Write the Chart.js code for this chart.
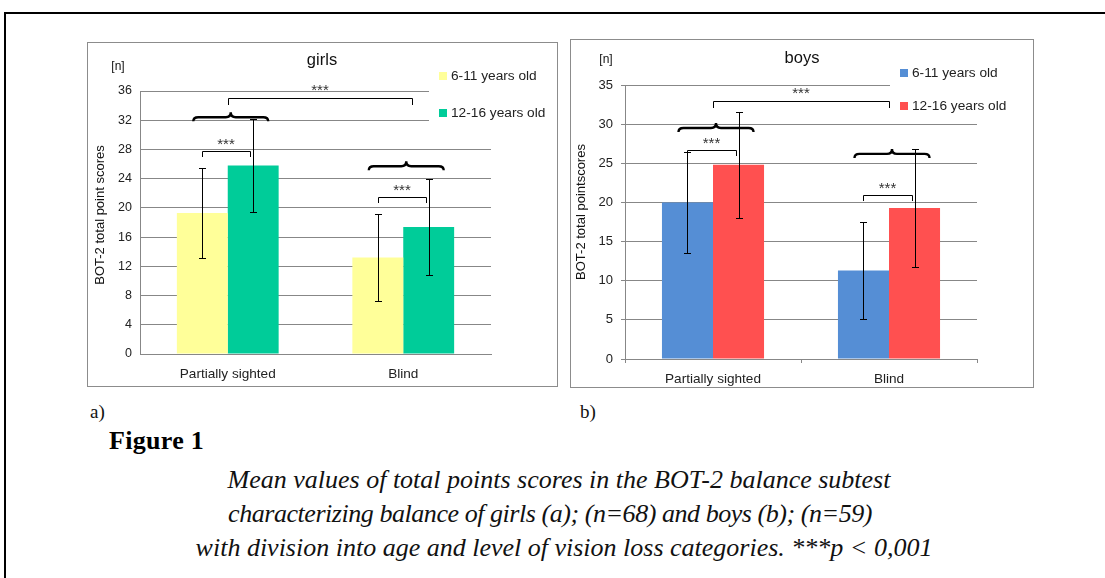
<!DOCTYPE html>
<html>
<head>
<meta charset="utf-8">
<script src="https://cdn.jsdelivr.net/npm/chart.js@4.4.1/dist/chart.umd.min.js"></script>
<style>
  body { margin: 0; background: #fff; width: 1105px; height: 578px; overflow: hidden; position: relative; }
  .frame { position: absolute; left: 4px; top: 12px; width: 1200px; height: 700px; border: 2px solid #000; }
  .box { position: absolute; border: 1px solid #8c8c8c; background: #fff; }
  .box canvas { display: block; }
  .lbl { position: absolute; font-family: "Liberation Serif", serif; font-size: 19px; line-height: 20px; color: #111; }
  .fig { position: absolute; left: 109px; top: 427px; font-family: "Liberation Serif", serif; font-weight: bold; font-size: 26px; line-height: 28px; letter-spacing: 0.3px; }
  .cap { position: absolute; font-family: "Liberation Serif", serif; font-style: italic; font-size: 26px; line-height: 30px; text-align: center; white-space: nowrap; color: #111; }
</style>
</head>
<body>
<div class="frame"></div>
<div class="box" style="left:87px;top:42px;width:469px;height:343px"><canvas id="girls" width="469" height="343"></canvas></div>
<div class="box" style="left:570px;top:39px;width:462px;height:347px"><canvas id="boys" width="462" height="347"></canvas></div>
<div class="lbl" style="left:90px;top:402px">a)</div>
<div class="lbl" style="left:580px;top:402px">b)</div>
<div class="fig">Figure 1</div>
<div class="cap" style="left:159px;width:800px;top:465px">Mean values of total points scores in the BOT-2 balance subtest</div>
<div class="cap" style="left:150px;width:800px;top:499px;letter-spacing:-0.45px">characterizing balance of girls (a); (n=68) and boys (b); (n=59)</div>
<div class="cap" style="left:164px;width:800px;top:533px">with division into age and level of vision loss categories. ***p &lt; 0,001</div>
<script>
const categories = ['Partially sighted', 'Blind'];
const ageGroups = ['6-11 years old', '12-16 years old'];

const girlsYoung = [19.3, 13.2];
const girlsOld = [25.8, 17.4];
const girlsYoungSD = [6.1, 6.0];
const girlsOldSD = [6.3, 6.6];
const girlsTicks = [0, 4, 8, 12, 16, 20, 24, 28, 32, 36];

const boysYoung = [20.0, 11.3];
const boysOld = [24.8, 19.3];
const boysYoungSD = [6.5, 6.2];
const boysOldSD = [6.8, 7.5];
const boysTicks = [0, 5, 10, 15, 20, 25, 30, 35];

// where the *** brackets sit, in score units
const girlsAgeBracket = [27.8, 21.5];
const girlsGroupBrace = [32.4, 25.7];
const girlsVisionBracket = 35.0;
const boysAgeBracket = [26.7, 21.0];
const boysGroupBrace = [29.5, 26.2];
const boysVisionBracket = 32.9;

const grey = '#878787';
Chart.defaults.font.family = '"Liberation Sans", Arial, sans-serif';
Chart.defaults.color = '#222';

function brace(ctx, x1, x2, y) {
  const xm = (x1 + x2) / 2, h = 5;
  ctx.beginPath();
  ctx.moveTo(x1, y + 4);
  ctx.quadraticCurveTo(x1, y, x1 + h, y);
  ctx.lineTo(xm - h, y);
  ctx.quadraticCurveTo(xm, y, xm, y - h);
  ctx.quadraticCurveTo(xm, y, xm + h, y);
  ctx.lineTo(x2 - h, y);
  ctx.quadraticCurveTo(x2, y, x2, y + 4);
  ctx.stroke();
}

function bracket(ctx, x1, x2, y, leg) {
  ctx.beginPath();
  ctx.moveTo(x1 + 0.5, y + leg);
  ctx.lineTo(x1 + 0.5, y + 0.5);
  ctx.lineTo(x2 + 0.5, y + 0.5);
  ctx.lineTo(x2 + 0.5, y + leg);
  ctx.stroke();
}

function stars(ctx, x, y) {
  ctx.font = '15px "Liberation Sans", Arial';
  ctx.fillStyle = '#333';
  ctx.textAlign = 'center';
  ctx.textBaseline = 'middle';
  ctx.fillText('***', x, y + 2);
}

function markers(cfg) {
  return {
    id: 'markers',
    afterDatasetsDraw(chart) {
      const ctx = chart.ctx, ys = chart.scales.y;
      const b0 = chart.getDatasetMeta(0).data, b1 = chart.getDatasetMeta(1).data;
      ctx.save();
      ctx.strokeStyle = '#000';
      ctx.lineWidth = 1;

      // error bars (mean +/- sd)
      chart.data.datasets.forEach((ds, i) => {
        chart.getDatasetMeta(i).data.forEach((bar, j) => {
          const top = Math.round(ys.getPixelForValue(ds.data[j] + ds.sd[j]));
          const bot = Math.round(ys.getPixelForValue(ds.data[j] - ds.sd[j]));
          const x = Math.round(bar.x);
          ctx.beginPath();
          ctx.moveTo(x + 0.5, top); ctx.lineTo(x + 0.5, bot);
          ctx.moveTo(x - 3, top + 0.5); ctx.lineTo(x + 4, top + 0.5);
          ctx.moveTo(x - 3, bot + 0.5); ctx.lineTo(x + 4, bot + 0.5);
          ctx.stroke();
        });
      });

      // age comparison inside each group
      cfg.age.forEach((v, j) => {
        const y = Math.round(ys.getPixelForValue(v));
        const x1 = Math.round(b0[j].x), x2 = Math.round(b1[j].x) - 3;
        bracket(ctx, x1, x2, y, 6);
        stars(ctx, (x1 + x2) / 2, y - 8);
      });

      // curly braces over each group
      ctx.lineWidth = 2.4;
      cfg.brace.forEach((v, j) => {
        brace(ctx, b0[j].x - 9, b1[j].x + 15, ys.getPixelForValue(v));
      });

      // partially sighted vs blind
      ctx.lineWidth = 1;
      const c0 = Math.round((b0[0].x + b1[0].x) / 2);
      const c1 = Math.round((b0[1].x + b1[1].x) / 2) + cfg.shift;
      const yv = Math.round(ys.getPixelForValue(cfg.vision));
      bracket(ctx, c0, c1, yv, 7);
      stars(ctx, (c0 + c1) / 2, yv - 9);

      // legend on a white patch
      const L = cfg.legend;
      ctx.fillStyle = '#fff';
      ctx.fillRect(L.x - 10, 20, chart.width - L.x + 10, L.h);
      chart.data.datasets.forEach((ds, i) => {
        const yy = L.y + i * L.gap;
        ctx.fillStyle = ds.backgroundColor;
        ctx.fillRect(L.x, yy - 4, 8, 8);
        ctx.fillStyle = '#222';
        ctx.font = '13.7px "Liberation Sans", Arial';
        ctx.textAlign = 'left';
        ctx.textBaseline = 'middle';
        ctx.fillText(ds.label, L.x + 12, yy);
      });

      // title, unit and axis title
      ctx.fillStyle = '#111';
      ctx.font = '16.5px "Liberation Sans", Arial';
      ctx.textAlign = 'center';
      ctx.fillText(cfg.title, cfg.tx, cfg.ty);
      ctx.font = '12px "Liberation Sans", Arial';
      ctx.fillText('[n]', cfg.nx, cfg.ny);
      ctx.save();
      ctx.translate(cfg.ax, cfg.ay);
      ctx.rotate(-Math.PI / 2);
      ctx.font = '13px "Liberation Sans", Arial';
      ctx.fillStyle = '#111';
      ctx.fillText(cfg.axisTitle, 0, 0);
      ctx.restore();
      ctx.restore();
    }
  };
}

function makeChart(id, young, old, youngSD, oldSD, colors, ticks, max, lay, cfg) {
  return new Chart(document.getElementById(id), {
    type: 'bar',
    data: {
      labels: categories,
      datasets: [
        { label: ageGroups[0], data: young, sd: youngSD, backgroundColor: colors[0] },
        { label: ageGroups[1], data: old, sd: oldSD, backgroundColor: colors[1] }
      ]
    },
    options: {
      responsive: false,
      animation: false,
      layout: { padding: { top: lay.top, right: lay.right, bottom: 0, left: 0 } },
      datasets: { bar: { categoryPercentage: 0.58, barPercentage: 1 } },
      plugins: { legend: { display: false }, tooltip: { enabled: false } },
      scales: {
        x: {
          grid: { drawOnChartArea: false, drawTicks: lay.xTicks, tickLength: 4, offset: true, color: grey },
          border: { color: grey },
          ticks: { padding: lay.xPad, font: { size: 13.6 }, color: '#222' },
          afterFit: s => { s.height = lay.xh; }
        },
        y: {
          min: 0, max: max,
          afterBuildTicks: s => { s.ticks = ticks.map(v => ({ value: v })); },
          grid: { color: grey, drawTicks: lay.yTicks, tickLength: 4 },
          border: { color: grey },
          ticks: { padding: 8, font: { size: lay.tickSize }, color: '#222' },
          afterFit: s => { s.width = lay.yw; }
        }
      }
    },
    plugins: [markers(cfg)]
  });
}

makeChart('girls', girlsYoung, girlsOld, girlsYoungSD, girlsOldSD, ['#FFFF99', '#00CC99'], girlsTicks, 36,
  { top: 48, right: 66, xh: 32, xPad: 12, xTicks: false, yTicks: false, yw: 52, tickSize: 12.5 },
  { age: girlsAgeBracket, brace: girlsGroupBrace, vision: girlsVisionBracket, shift: 9,
    legend: { x: 351, y: 33, gap: 37, h: 65 },
    title: 'girls', tx: 234, ty: 17, nx: 30, ny: 24, ax: 12, ay: 172, axisTitle: 'BOT-2 total point scores' });

makeChart('boys', boysYoung, boysOld, boysYoungSD, boysOldSD, ['#558ED5', '#FF5050'], boysTicks, 35,
  { top: 45, right: 56, xh: 28, xPad: 8, xTicks: true, yTicks: true, yw: 54, tickSize: 13 },
  { age: boysAgeBracket, brace: boysGroupBrace, vision: boysVisionBracket, shift: 0,
    legend: { x: 329, y: 33, gap: 33, h: 60 },
    title: 'boys', tx: 231, ty: 18, nx: 35, ny: 20, ax: 10, ay: 172, axisTitle: 'BOT-2 total pointscores' });
</script>
</body>
</html>
